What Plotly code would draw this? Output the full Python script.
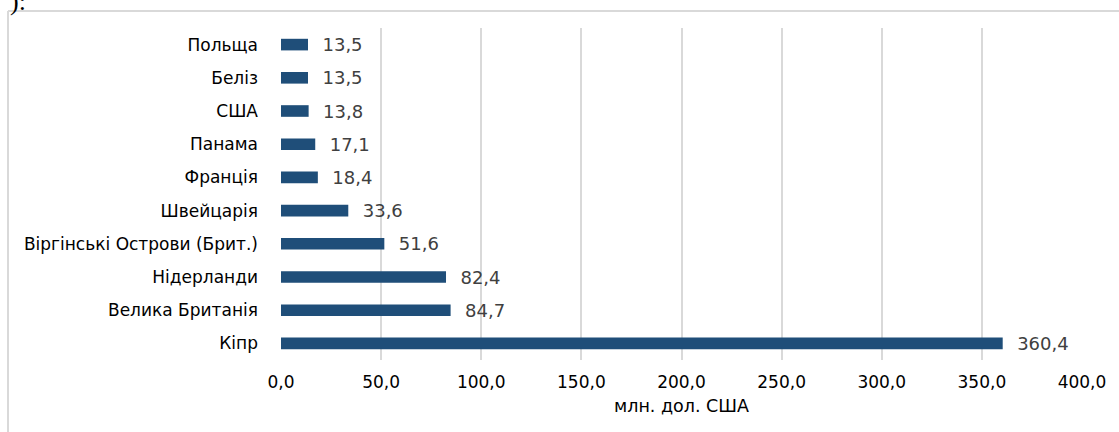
import plotly.graph_objects as go

countries = ["Кіпр", "Велика Британія", "Нідерланди", "Віргінські Острови (Брит.)",
             "Швейцарія", "Франція", "Панама", "США", "Беліз", "Польща"]
values = [360.4, 84.7, 82.4, 51.6, 33.6, 18.4, 17.1, 13.8, 13.5, 13.5]
x_ticks = [0, 50, 100, 150, 200, 250, 300, 350, 400]
x_title = "млн. дол. США"

W, H = 1119, 432
L, R, T, B = 281, 37, 28, 72
pw, ph = W - L - R, H - T - B
FONT = "DejaVu Sans"

def px_x(p):
    return (p - L) / pw

def px_y(p):
    return (H - B - p) / ph

fig = go.Figure(go.Bar(
    x=values, y=countries, orientation="h",
    marker=dict(color="#1F4E79", line=dict(width=0)),
    width=0.35,
    text=values, texttemplate="  %{x:.1f}", textposition="outside",
    constraintext="none",
    textfont=dict(size=18, color="#404040", family=FONT),
    cliponaxis=False,
    hoverinfo="skip",
))

fig.update_layout(
    width=W, height=H,
    margin=dict(l=L, r=R, t=T, b=B, autoexpand=False),
    paper_bgcolor="white", plot_bgcolor="white",
    separators=", ",
    showlegend=False,
    font=dict(family=FONT, size=17, color="#000000"),
    xaxis=dict(
        range=[0, 400], tickvals=x_ticks, tickformat=".1f",
        showgrid=True, gridcolor="#D9D9D9", gridwidth=2,
        zeroline=False, showline=False,
        ticks="outside", ticklen=7, tickcolor="rgba(0,0,0,0)",
        tickfont=dict(size=17, color="#000000", family=FONT),
        title=dict(text=x_title, font=dict(size=17.5, color="#000000", family=FONT), standoff=8),
    ),
    yaxis=dict(
        showgrid=False, zeroline=False, showline=False, ticks="",
        ticklabelstandoff=22,
        tickfont=dict(size=17, color="#000000", family=FONT),
    ),
    shapes=[
        dict(type="line", xref="paper", yref="paper",
             x0=px_x(8), y0=px_y(11), x1=px_x(1130), y1=px_y(11),
             line=dict(color="#D9D9D9", width=2)),
        dict(type="line", xref="paper", yref="paper",
             x0=px_x(8), y0=px_y(11), x1=px_x(8), y1=px_y(445),
             line=dict(color="#D9D9D9", width=2)),
    ],
    annotations=[
        dict(text="):", xref="paper", yref="paper", x=px_x(8), y=px_y(18),
             xanchor="left", yanchor="bottom", showarrow=False,
             font=dict(family="Liberation Serif", size=26, color="#000000")),
    ],
)

fig.write_html("out.html", config={"displayModeBar": False},
               post_script="document.body.style.margin='0';")
